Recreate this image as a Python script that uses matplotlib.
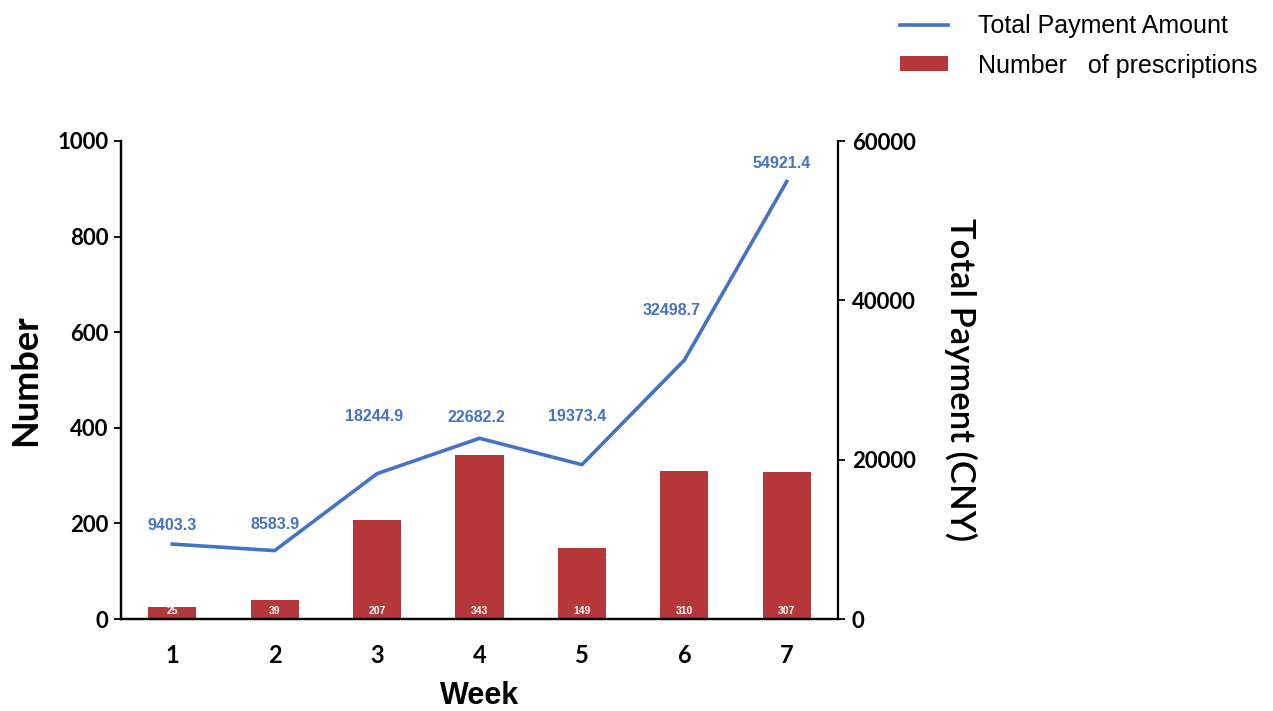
import matplotlib
matplotlib.use("Agg")
import matplotlib.pyplot as plt

weeks = [1, 2, 3, 4, 5, 6, 7]
prescriptions = [25, 39, 207, 343, 149, 310, 307]
payment = [9403.3, 8583.9, 18244.9, 22682.2, 19373.4, 32498.7, 54921.4]
left_ticks = [0, 200, 400, 600, 800, 1000]
right_ticks = [0, 20000, 40000, 60000]

# label offsets in pixels (style only)
pay_offsets = [(0, 19), (0, 26), (-3, 57), (-3, 21), (-5, 48), (-13, 50), (-5, 18)]

BLUE = "#4472C4"
RED = "#B5373A"
DPI = 100
px = 72.0 / DPI

fig = plt.figure(figsize=(12.73, 7.11), dpi=DPI)
ax = fig.add_axes([121 / 1273, 1 - 619 / 711, (838 - 121) / 1273, (619 - 141) / 711])
ax2 = ax.twinx()

bars = ax.bar(weeks, prescriptions, width=0.47, color=RED, zorder=2,
              label="Number   of prescriptions")
line, = ax2.plot(weeks, payment, color=BLUE, lw=2.6, zorder=3,
                 label="Total Payment Amount")

ax.set_xlim(0.5, 7.5)
ax.set_ylim(0, 1000)
ax2.set_ylim(0, 60000)
ax.set_yticks(left_ticks)
ax2.set_yticks(right_ticks)
ax.set_xticks(weeks)

tickfont = dict(family="Lato", weight="bold", size=16)
ax.set_yticklabels([str(t) for t in left_ticks], fontdict=tickfont)
ax.set_xticklabels([str(w) for w in weeks], fontdict=dict(family="Lato", weight="bold", size=17))
ax2.set_yticklabels([str(t) for t in right_ticks], fontdict=tickfont)

ax.tick_params(axis="x", length=0, pad=18)
ax.tick_params(axis="y", direction="out", length=5, width=1.3, pad=4)
ax2.tick_params(axis="y", direction="out", length=5, width=1.3, pad=5)

for a in (ax, ax2):
    a.spines["top"].set_visible(False)
    for s in ("left", "right", "bottom"):
        a.spines[s].set_linewidth(1.6)
ax.spines["right"].set_visible(False)

ax.set_xlabel("Week", fontsize=22, fontweight="bold", family="Liberation Sans", labelpad=10)
ax.set_ylabel("Number", fontsize=26, fontweight="bold", family="Lato", labelpad=11)
ax2.set_ylabel("Total Payment (CNY)", fontsize=25, family="Lato", fontweight="semibold",
               rotation=-90, labelpad=44)

for x, v in zip(weeks, prescriptions):
    ax.annotate(str(v), (x, 0), xytext=(0, 8 * px), textcoords="offset points",
                ha="center", va="center", color="white", fontsize=7.5,
                fontweight="bold", family="Liberation Sans", zorder=4)

for x, v, (dx, dy) in zip(weeks, payment, pay_offsets):
    ax2.annotate(f"{v:.1f}", (x, v), xytext=(dx * px, dy * px), textcoords="offset points",
                 ha="center", va="center", color=BLUE, fontsize=11.5,
                 fontweight="bold", family="Liberation Sans")

fig.legend([line, bars], ["Total Payment Amount", "Number   of prescriptions"],
           loc="upper left", bbox_to_anchor=(900 / 1273, 1 - 14 / 711),
           frameon=False, prop=dict(family="Liberation Sans", size=18),
           borderpad=0, borderaxespad=0,
           handlelength=1.9, handleheight=0.55, labelspacing=0.62, handletextpad=1.2)

fig.savefig("out.png", dpi=DPI)
